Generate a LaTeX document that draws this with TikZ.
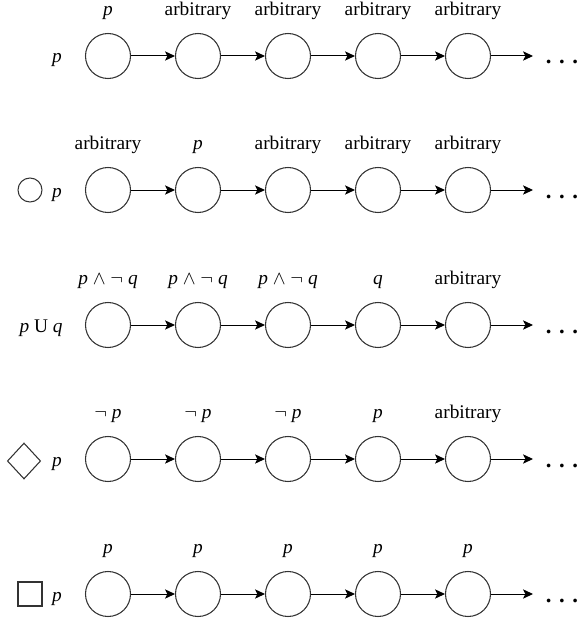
\documentclass[tikz,border=0pt]{standalone}
\usepackage{fontspec}
\setmainfont{Liberation Serif}
\usetikzlibrary{arrows.meta,positioning,shapes.geometric}

\begin{document}
\begin{tikzpicture}[
    x=0.75pt, y=-0.75pt,
    font=\fontsize{14.5}{17}\selectfont,
    state/.style={draw=black!80, circle, minimum size=33.75pt, inner sep=0pt, line width=0.8pt},
    lab/.style={inner sep=0pt, text depth=0pt, label distance=13pt},
    formula/.style={anchor=base, inner sep=0pt, text depth=0pt},
    dots/.style={anchor=base, inner sep=0pt, font=\fontsize{17}{17}\selectfont\bfseries},
    symb/.style={draw=black!80, line width=0.8pt, inner sep=0pt},
    arrow/.style={-{Stealth[length=7.5pt, width=7pt, inset=1.8pt]}, line width=0.75pt}
]
\useasboundingbox (0,0) rectangle (577,624);

% row 1: p
\node[formula] (fp) at (57,63) {\textit{p}};
\node[state, label={[lab]above:\textit{p}}] (p1) at (108,56) {};
\node[state, label={[lab]above:arbitrary}] (p2) at (198,56) {};
\node[state, label={[lab]above:arbitrary}] (p3) at (288,56) {};
\node[state, label={[lab]above:arbitrary}] (p4) at (378,56) {};
\node[state, label={[lab]above:arbitrary}] (p5) at (468,56) {};
\coordinate (p6) at (533,56);
\node[dots] (pd) at (562,64) {. . .};
\draw[arrow] (p1) -- (p2);
\draw[arrow] (p2) -- (p3);
\draw[arrow] (p3) -- (p4);
\draw[arrow] (p4) -- (p5);
\draw[arrow] (p5) -- (p6);

% row 2: next p
\node[symb, circle, minimum size=18pt] (nx) at (30,190) {};
\node[formula] (fx) at (57,197) {\textit{p}};
\node[state, label={[lab]above:arbitrary}] (x1) at (108,190) {};
\node[state, label={[lab]above:\textit{p}}] (x2) at (198,190) {};
\node[state, label={[lab]above:arbitrary}] (x3) at (288,190) {};
\node[state, label={[lab]above:arbitrary}] (x4) at (378,190) {};
\node[state, label={[lab]above:arbitrary}] (x5) at (468,190) {};
\coordinate (x6) at (533,190);
\node[dots] (xd) at (562,198) {. . .};
\draw[arrow] (x1) -- (x2);
\draw[arrow] (x2) -- (x3);
\draw[arrow] (x3) -- (x4);
\draw[arrow] (x4) -- (x5);
\draw[arrow] (x5) -- (x6);

% row 3: p until q
\node[formula] (fu) at (41,332) {\textit{p} U \textit{q}};
\node[state, label={[lab]above:{\textit{p} $\land$ $\lnot$ \textit{q}}}] (u1) at (108,325) {};
\node[state, label={[lab]above:{\textit{p} $\land$ $\lnot$ \textit{q}}}] (u2) at (198,325) {};
\node[state, label={[lab]above:{\textit{p} $\land$ $\lnot$ \textit{q}}}] (u3) at (288,325) {};
\node[state, label={[lab]above:\textit{q}}] (u4) at (378,325) {};
\node[state, label={[lab]above:arbitrary}] (u5) at (468,325) {};
\coordinate (u6) at (533,325);
\node[dots] (ud) at (562,333) {. . .};
\draw[arrow] (u1) -- (u2);
\draw[arrow] (u2) -- (u3);
\draw[arrow] (u3) -- (u4);
\draw[arrow] (u4) -- (u5);
\draw[arrow] (u5) -- (u6);

% row 4: eventually p
\node[symb, diamond, minimum width=25pt, minimum height=27pt] (nf) at (24,461) {};
\node[formula] (ff) at (57,466) {\textit{p}};
\node[state, label={[lab]above:{$\lnot$ \textit{p}}}] (f1) at (108,459) {};
\node[state, label={[lab]above:{$\lnot$ \textit{p}}}] (f2) at (198,459) {};
\node[state, label={[lab]above:{$\lnot$ \textit{p}}}] (f3) at (288,459) {};
\node[state, label={[lab]above:\textit{p}}] (f4) at (378,459) {};
\node[state, label={[lab]above:arbitrary}] (f5) at (468,459) {};
\coordinate (f6) at (533,459);
\node[dots] (fd) at (562,467) {. . .};
\draw[arrow] (f1) -- (f2);
\draw[arrow] (f2) -- (f3);
\draw[arrow] (f3) -- (f4);
\draw[arrow] (f4) -- (f5);
\draw[arrow] (f5) -- (f6);

% row 5: always p
\node[symb, rectangle, minimum size=18pt] (ng) at (30,594) {};
\node[formula] (fg) at (57,601) {\textit{p}};
\node[state, label={[lab]above:\textit{p}}] (g1) at (108,594) {};
\node[state, label={[lab]above:\textit{p}}] (g2) at (198,594) {};
\node[state, label={[lab]above:\textit{p}}] (g3) at (288,594) {};
\node[state, label={[lab]above:\textit{p}}] (g4) at (378,594) {};
\node[state, label={[lab]above:\textit{p}}] (g5) at (468,594) {};
\coordinate (g6) at (533,594);
\node[dots] (gd) at (562,602) {. . .};
\draw[arrow] (g1) -- (g2);
\draw[arrow] (g2) -- (g3);
\draw[arrow] (g3) -- (g4);
\draw[arrow] (g4) -- (g5);
\draw[arrow] (g5) -- (g6);
\end{tikzpicture}
\end{document}
